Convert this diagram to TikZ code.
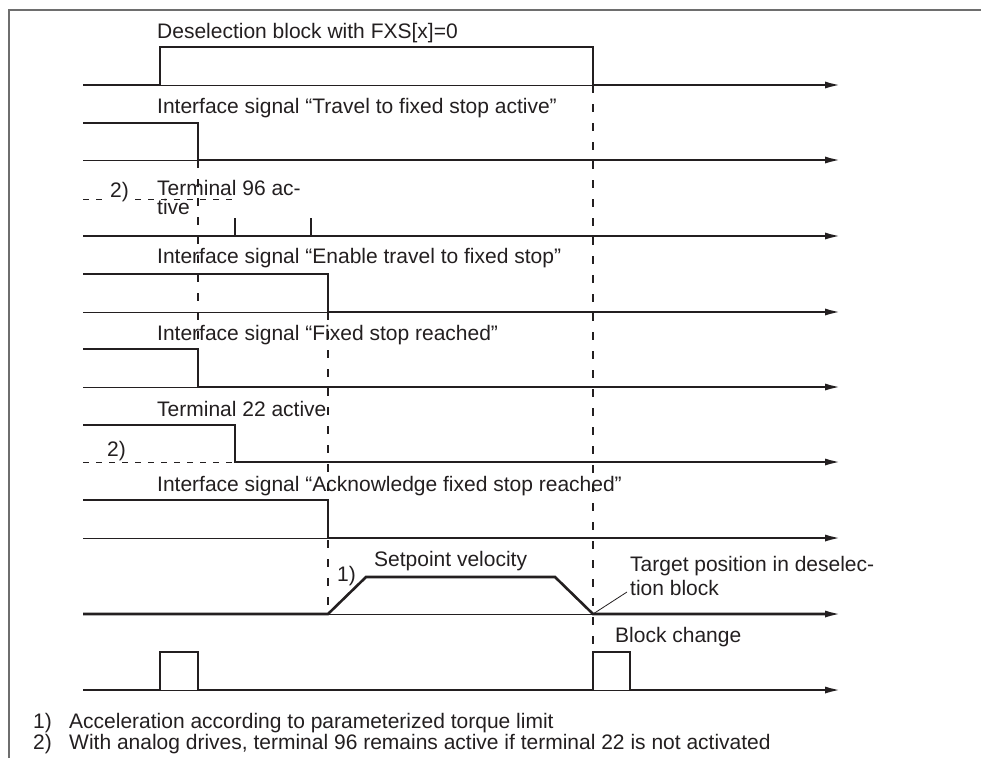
\documentclass[tikz,border=0pt]{standalone}
\usepackage{fontspec}
\setmainfont{Liberation Sans}
\usetikzlibrary{arrows.meta,calc}
\definecolor{ink}{HTML}{231F20}
\definecolor{framegray}{HTML}{6E6E6E}
\begin{document}
\begin{tikzpicture}[x=1pt,y=-1pt,
  sig/.style={line width=2.6pt, draw=ink, line join=miter},
  axis/.style={sig, -{Latex[length=17pt,width=7pt]}},
  base/.style={line width=1pt, draw=ink},
  guide/.style={line width=1.1pt, draw=ink, dash pattern=on 8pt off 11pt},
  hdash/.style={line width=1pt, draw=ink, dash pattern=on 6pt off 7pt},
  lbl/.style={anchor=base west, inner sep=0pt, text=ink,
              font=\fontsize{21}{20}\selectfont},
  leader/.style={line width=0.8pt, draw=ink}]

\useasboundingbox (0,0) rectangle (981,758);

% frame (top and left edges)
\draw[line width=2pt, framegray] (9,758) -- (9,10) -- (981,10);

% thin zero levels under the high phases
\draw[base] (160,85) -- (593,85);
\draw[base] (83,160) -- (198,160);
\draw[base] (83,312) -- (328,312);
\draw[base] (83,387) -- (198,387);
\draw[base] (83,538) -- (328,538);
\draw[base] (328,614) -- (593,614);
\draw[base] (160,690) -- (198,690) (593,690) -- (630,690);

% vertical guide lines
\draw[guide] (198,160) -- (198,349);
\draw[guide] (328,312) -- (328,614);
\draw[guide] (593,85) -- (593,652);

% 1: deselection block
\draw[axis] (83,85) -- (160,85) -- (160,47) -- (593,47) -- (593,85) -- (842,85);
\node[lbl] (desel) at (157,38) {Deselection block with FXS[x]=0};

% 2: travel to fixed stop active
\draw[axis] (83,123) -- (198,123) -- (198,160) -- (842,160);
\node[lbl] (travel) at (157,113) {Interface signal “Travel to fixed stop active”};

% 3: terminal 96
\draw[hdash] (83,199) -- (233,199);
\draw[axis] (83,236) -- (842,236);
\draw[sig] (235,218) -- (235,236) (311,218) -- (311,236);
\node[lbl] (t96a) at (157,195) {Terminal 96 ac-};
\node[lbl] (t96b) at (157,214) {tive};
\node[lbl, fill=white, inner xsep=1pt] (n2a) at (109,197) {2)};

% 4: enable travel to fixed stop
\draw[axis] (83,274) -- (328,274) -- (328,312) -- (842,312);
\node[lbl] (enable) at (157,263) {Interface signal “Enable travel to fixed stop”};

% 5: fixed stop reached
\draw[axis] (83,349) -- (198,349) -- (198,387) -- (842,387);
\node[lbl] (reached) at (157,340) {Interface signal “Fixed stop reached”};

% 6: terminal 22
\draw[hdash] (83,462) -- (235,462);
\draw[axis] (83,425) -- (235,425) -- (235,462) -- (842,462);
\node[lbl] (t22) at (157,416) {Terminal 22 active};
\node[lbl] (n2b) at (107,456) {2)};

% 7: acknowledge fixed stop reached
\draw[axis] (83,500) -- (328,500) -- (328,538) -- (842,538);
\node[lbl] (ack) at (157,491) {Interface signal “Acknowledge fixed stop reached”};

% 8: setpoint velocity
\draw[axis] (83,614) -- (328,614) -- (366,577) -- (555,577) -- (593,614) -- (842,614);
\coordinate (zero) at (593,614);
\node[lbl] (vel) at (374,566) {Setpoint velocity};
\node[lbl] (n1) at (337,581) {1)};
\node[lbl] (tgta) at (630,571) {Target position in deselec-};
\node[lbl] (tgtb) at (630,595) {tion block};
\draw[leader] (zero) -- ($(tgtb.base west)+(-3,-3)$);

% 9: block change
\draw[axis] (83,690) -- (160,690) -- (160,652) -- (198,652) -- (198,690)
  -- (593,690) -- (593,652) -- (630,652) -- (630,690) -- (842,690);
\node[lbl] (blk) at (615,642) {Block change};

% footnotes
\node[lbl] (f1n) at (33,728) {1)};
\node[lbl] (f1) at (69,728) {Acceleration according to parameterized torque limit};
\node[lbl] (f2n) at (33,749) {2)};
\node[lbl] (f2) at (69,749) {With analog drives, terminal 96 remains active if terminal 22 is not activated};
\end{tikzpicture}
\end{document}
